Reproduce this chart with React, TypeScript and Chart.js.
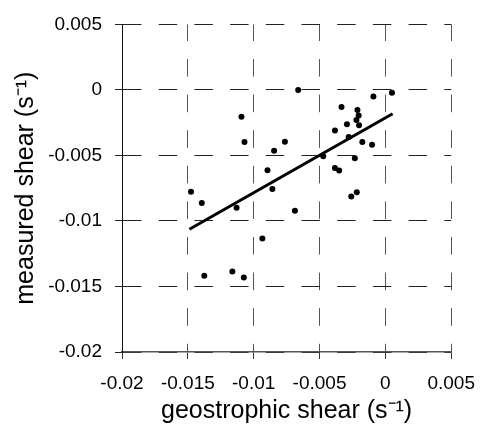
import React, { useEffect, useRef } from "react";
import { Chart, registerables } from "chart.js";

Chart.register(...registerables);

const geoShear = [
  -0.01476, -0.01394, -0.01375, -0.01162, -0.0113, -0.01093, -0.0107, -0.01075,
  -0.00934, -0.00895, -0.00858, -0.00845, -0.00763, -0.00687, -0.00662, -0.00472,
  -0.00383, -0.00383, -0.00351, -0.00333, -0.00292, -0.00279, -0.00259, -0.00232,
  -0.0022, -0.00217, -0.00212, -0.00203, -0.002, -0.00175, -0.00101, -0.00091, 0.0005,
];
const measuredShear = [
  -0.00778, -0.00863, -0.01419, -0.01386, -0.009, -0.00205, -0.00398, -0.01431,
  -0.01134, -0.00613, -0.00756, -0.00464, -0.00395, -0.00922, 0.0, -0.00507,
  -0.00309, -0.00596, -0.00615, -0.00131, -0.00262, -0.0036, -0.00813, -0.00521,
  -0.00229, -0.00781, -0.00153, -0.00195, -0.00269, -0.00398, -0.00418, -0.00051, -0.00022,
];
const trendX = [-0.01488, 0.00055];
const trendY = [-0.01063, -0.00182];

const xTicks = [-0.02, -0.015, -0.01, -0.005, 0, 0.005];
const yTicks = [-0.02, -0.015, -0.01, -0.005, 0, 0.005];
const xTitle = "geostrophic shear (s\u207B\u00B9)";
const yTitle = "measured shear (s\u207B\u00B9)";

const FONT = "'Liberation Sans', Arial, sans-serif";

export default function App() {
  const ref = useRef<HTMLCanvasElement>(null);
  useEffect(() => {
    document.body.style.margin = "0";
    const ctx = ref.current!;
    const chart = new Chart(ctx, {
      type: "scatter",
      data: {
        datasets: [
          {
            type: "line",
            data: trendX.map((x, i) => ({ x, y: trendY[i] })),
            borderColor: "#000",
            borderWidth: 3,
            pointRadius: 0,
            fill: false,
            order: 0,
          } as any,
          {
            data: geoShear.map((x, i) => ({ x, y: measuredShear[i] })),
            backgroundColor: "#000",
            borderColor: "#000",
            pointRadius: 3,
            borderWidth: 0,
            order: 1,
          },
        ],
      },
      options: {
        animation: false,
        responsive: false,
        maintainAspectRatio: false,
        layout: { padding: { left: 0, top: 15, right: 29, bottom: 0 } },
        plugins: { legend: { display: false }, tooltip: { enabled: false } },
        scales: {
          x: {
            type: "linear",
            min: -0.02,
            max: 0.005,
            afterBuildTicks: (s: any) => {
              s.ticks = xTicks.map((v) => ({ value: v }));
            },
            afterFit: (s: any) => {
              s.height = 74;
            },
            ticks: {
              color: "#000",
              font: { family: FONT, size: 19 },
              padding: 13,
              maxRotation: 0,
              autoSkip: false,
              callback: (v: any) => String(v),
            },
            grid: {
              color: "#555",
              lineWidth: 1,
              tickLength: 7,
              tickColor: "#333",
            },
            border: { display: true, color: "#555", width: 1.5, dash: [17.6, 18], dashOffset: 1 },
            title: {
              display: true,
              text: xTitle,
              color: "#000",
              font: { family: FONT, size: 25 },
              padding: { top: 0, bottom: 0 },
            },
          },
          y: {
            type: "linear",
            min: -0.02,
            max: 0.005,
            afterBuildTicks: (s: any) => {
              s.ticks = yTicks.map((v) => ({ value: v }));
            },
            afterFit: (s: any) => {
              s.width = 122;
            },
            ticks: {
              color: "#000",
              font: { family: FONT, size: 19 },
              padding: 13,
              autoSkip: false,
              callback: (v: any) => String(v),
            },
            grid: {
              color: "#222",
              lineWidth: 1,
              tickLength: 7,
              tickColor: "#222",
            },
            border: { display: true, color: "#111", width: 1, dash: [18.5, 17.2], dashOffset: 0 },
            title: {
              display: true,
              text: yTitle,
              color: "#000",
              font: { family: FONT, size: 25 },
              padding: { top: 11, bottom: 0 },
            },
          },
        },
      },
    });
    return () => chart.destroy();
  }, []);
  return (
    <div style={{ width: 488, height: 426, background: "#fff" }}>
      <canvas ref={ref} width={488} height={426} style={{ display: "block" }} />
    </div>
  );
}
